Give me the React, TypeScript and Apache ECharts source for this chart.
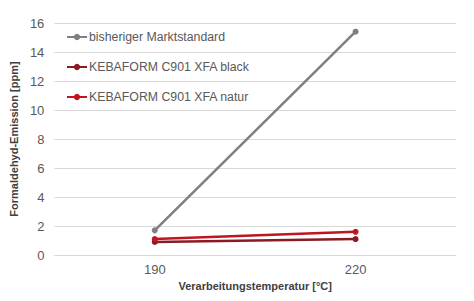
import React, { useEffect, useRef } from "react";
import * as echarts from "echarts";

const categories = ["190", "220"];
const marktstandard = [1.7, 15.4];
const xfaBlack = [0.9, 1.1];
const xfaNatur = [1.1, 1.6];
const seriesNames = [
  "bisheriger Marktstandard",
  "KEBAFORM C901 XFA black",
  "KEBAFORM C901 XFA natur",
];
const colors = ["#7f7f7f", "#8b1a22", "#c0141f"];

export default function App() {
  const ref = useRef<HTMLDivElement>(null);
  useEffect(() => {
    if (!ref.current) return;
    const chart = echarts.init(ref.current, null, { renderer: "svg" });
    const font = "Liberation Sans, Arial, sans-serif";
    const mk = (name: string, data: number[], color: string) => ({
      name,
      type: "line",
      data,
      symbol: "circle",
      symbolSize: 6,
      itemStyle: { color },
      lineStyle: { color, width: 2.5 },
    });
    chart.setOption({
      animation: false,
      textStyle: { fontFamily: font },
      grid: { left: 45, right: 18, top: 23, bottom: 46 },
      legend: {
        orient: "vertical",
        left: 61,
        top: 25,
        itemWidth: 20,
        itemHeight: 8,
        itemGap: 16,
        textStyle: {
          fontSize: 12.3,
          lineHeight: 14,
          color: "#595959",
          fontFamily: font,
          padding: [0, 0, 0, -3],
        },
        data: seriesNames,
      },
      xAxis: {
        type: "category",
        data: categories,
        boundaryGap: true,
        axisLine: { show: true, lineStyle: { color: "#d9d9d9" } },
        axisTick: { show: false },
        axisLabel: { fontSize: 13, color: "#595959", margin: 8 },
        name: "Verarbeitungstemperatur [°C]",
        nameLocation: "middle",
        nameGap: 25,
        nameTextStyle: { fontSize: 11, fontWeight: "bold", color: "#404040" },
      },
      yAxis: {
        type: "value",
        min: 0,
        max: 16,
        interval: 2,
        axisLine: { show: false },
        axisTick: { show: false },
        splitLine: { lineStyle: { color: "#d9d9d9", width: 1 } },
        axisLabel: { fontSize: 13, color: "#595959", margin: 10 },
        name: "Formaldehyd-Emission [ppm]",
        nameLocation: "middle",
        nameGap: 29,
        nameTextStyle: { fontSize: 11, fontWeight: "bold", color: "#404040" },
      },
      series: [
        mk(seriesNames[0], marktstandard, colors[0]),
        mk(seriesNames[1], xfaBlack, colors[1]),
        mk(seriesNames[2], xfaNatur, colors[2]),
      ],
    });
    return () => chart.dispose();
  }, []);
  return <div ref={ref} style={{ width: 474, height: 301, position: "absolute", left: 0, top: 0 }} />;
}
